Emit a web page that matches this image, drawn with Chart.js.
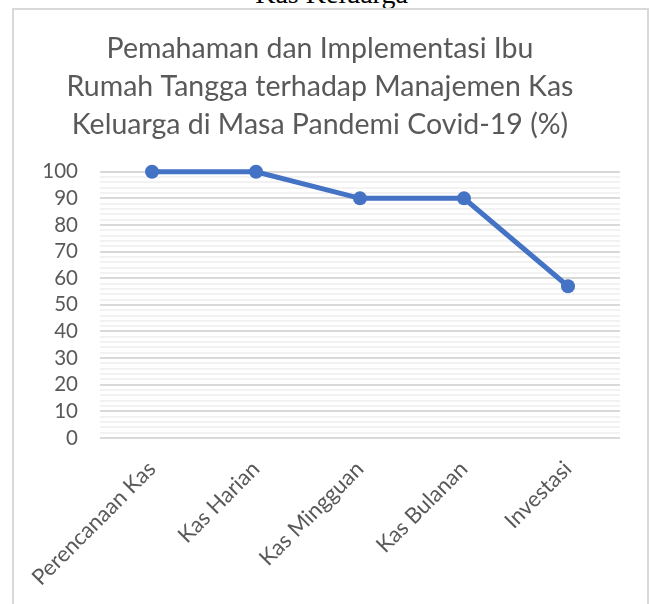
<!DOCTYPE html>
<html lang="id">
<head>
  <meta charset="UTF-8">
  <title>Manajemen Kas Keluarga</title>
  <script src="https://cdn.jsdelivr.net/npm/chart.js"></script>
  <style>
    body { margin: 0; background: #fff; overflow: hidden; }
    #atas {
      position: absolute; left: 0; width: 649px; top: -22px;
      text-align: center; font: 28px "Liberation Serif", serif; color: #000;
      line-height: 32px; padding-left: 14px; box-sizing: border-box;
    }
    #bingkai {
      position: absolute; left: 12px; top: 8px; width: 633px; height: 640px;
      border: 2px solid #d9d9d9;
    }
    #wadah { position: absolute; left: 0; top: 0; width: 649px; height: 604px; }
  </style>
</head>
<body>
  <div id="atas">Kas Keluarga</div>
  <div id="bingkai"></div>
  <div id="wadah"><canvas id="grafik"></canvas></div>

  <script>
    const kategori = ['Perencanaan Kas', 'Kas Harian', 'Kas Mingguan', 'Kas Bulanan', 'Investasi'];
    const nilai = [100, 100, 90, 90, 57];
    const judul = [
      'Pemahaman dan Implementasi Ibu',
      'Rumah Tangga terhadap Manajemen Kas',
      'Keluarga di Masa Pandemi Covid-19 (%)'
    ];
    const sumbuY = { min: 0, max: 100, langkah: 2, label: 10 };

    const warnaTeks = '#595959';
    const huruf = 'Lato, "Open Sans", sans-serif';

    new Chart(document.getElementById('grafik'), {
      type: 'line',
      data: {
        labels: kategori,
        datasets: [{
          data: nilai,
          borderColor: '#4472c4',
          backgroundColor: '#4472c4',
          borderWidth: 5,
          pointRadius: 7,
          pointBorderWidth: 0,
          fill: false,
          tension: 0,
          clip: false
        }]
      },
      options: {
        responsive: true,
        maintainAspectRatio: false,
        animation: false,
        layout: { padding: { left: 20, right: 29, top: 0, bottom: 0 } },
        plugins: {
          legend: { display: false },
          tooltip: { enabled: false },
          title: {
            display: true,
            text: judul,
            color: warnaTeks,
            font: { family: huruf, size: 28.5, weight: 'normal', lineHeight: 1.33 },
            padding: { top: 30, bottom: 28 }
          }
        },
        scales: {
          x: {
            offset: true,
            grid: { display: false, offset: true },
            border: { display: false },
            ticks: {
              color: warnaTeks,
              font: { family: huruf, size: 22 },
              maxRotation: 45,
              minRotation: 45,
              padding: 10,
              labelOffset: 0
            },
            afterFit: (s) => { s.height = 604 - 438; }
          },
          y: {
            min: sumbuY.min,
            max: sumbuY.max,
            border: { display: false },
            grid: {
              drawTicks: false,
              lineWidth: 2,
              color: (c) => (c.tick && c.tick.value % sumbuY.label === 0) ? '#d9d9d9' : '#f2f2f2'
            },
            ticks: {
              stepSize: sumbuY.langkah,
              autoSkip: false,
              color: warnaTeks,
              font: { family: huruf, size: 20.5 },
              padding: 22,
              callback: (v) => v % sumbuY.label === 0 ? v : ''
            },
            afterFit: (s) => { s.width = 80; }
          }
        }
      }
    });
  </script>
</body>
</html>
